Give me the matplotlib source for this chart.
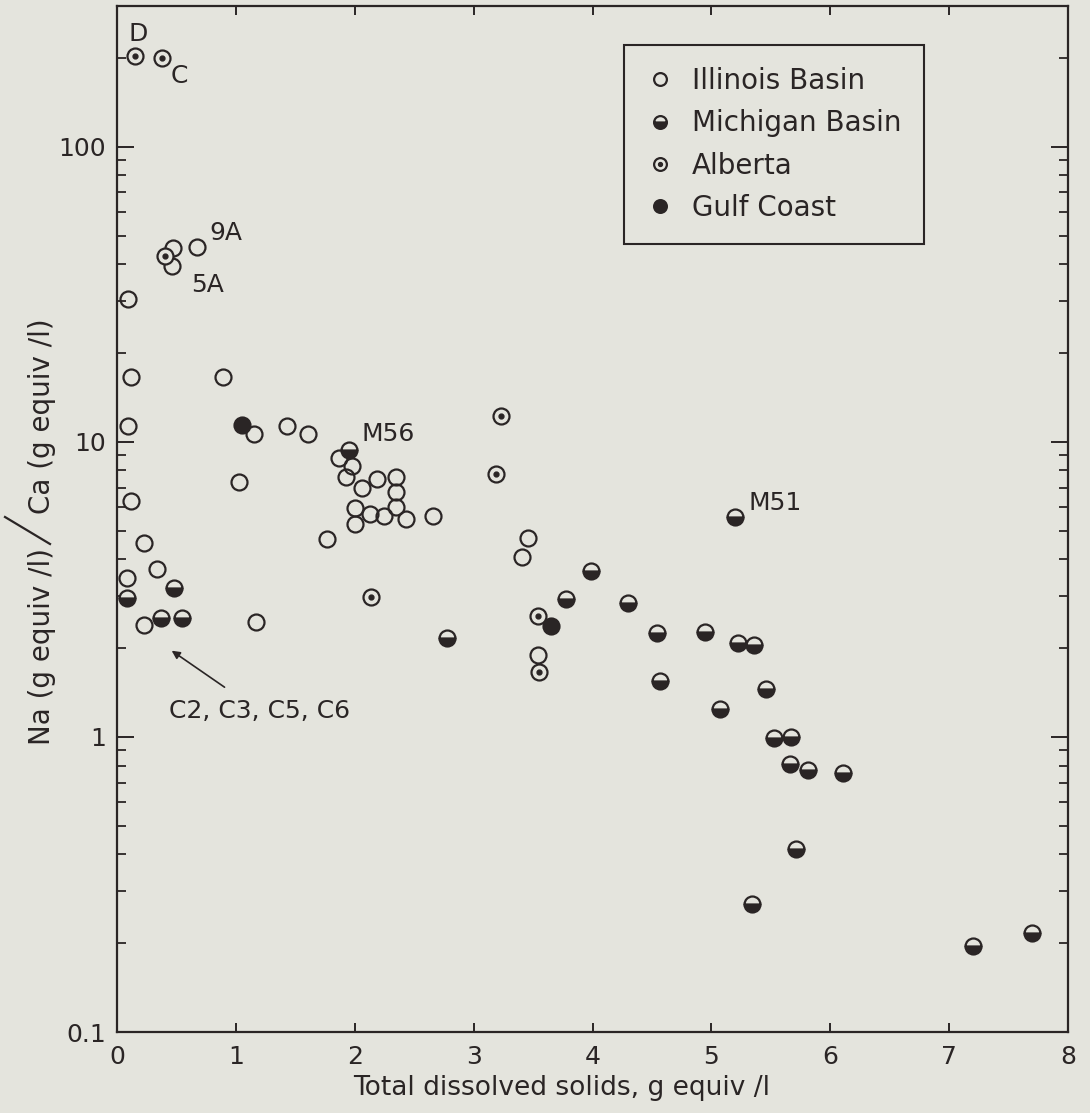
import numpy as np
import matplotlib

matplotlib.use('Agg')
from matplotlib import pyplot as plt
from matplotlib.lines import Line2D
from matplotlib.ticker import LogLocator, NullFormatter, FixedLocator

# Na/Ca ratio vs total dissolved solids, by region
illinois_tds = [0.47, 0.46, 0.67, 0.09, 0.12, 0.89, 0.09, 1.15, 1.43, 1.61,
                1.87, 1.98, 1.93, 2.06, 2.19, 1.03, 0.12, 2.35, 2.35, 2.35,
                2.00, 2.13, 2.25, 2.43, 2.00, 2.66, 1.77, 0.23, 0.34, 0.08,
                0.23, 1.17, 3.46, 3.41, 3.54]
illinois_ratio = [45.5, 39.5, 45.8, 30.5, 16.6, 16.6, 11.3, 10.6, 11.3, 10.6,
                  8.8, 8.3, 7.6, 7.0, 7.5, 7.3, 6.3, 7.6, 6.77, 6.02,
                  5.97, 5.7, 5.6, 5.48, 5.27, 5.6, 4.69, 4.55, 3.71, 3.46,
                  2.4, 2.45, 4.73, 4.08, 1.9]

michigan_tds = [1.95, 0.48, 0.08, 0.37, 0.55, 3.99, 3.78, 4.30, 2.78, 4.54,
                4.57, 5.20, 4.95, 5.22, 5.36, 5.46, 5.07, 5.53, 5.67, 5.66,
                5.81, 6.11, 5.71, 5.34, 7.20, 7.70]
michigan_ratio = [9.4, 3.2, 2.96, 2.53, 2.53, 3.65, 2.94, 2.85, 2.17, 2.25,
                  1.55, 5.57, 2.27, 2.08, 2.05, 1.45, 1.24, 0.99, 1.0, 0.81,
                  0.77, 0.755, 0.417, 0.272, 0.196, 0.217]

alberta_tds = [0.15, 0.38, 0.40, 3.23, 3.19, 2.14, 3.54, 3.55]
alberta_ratio = [203, 200, 42.7, 12.2, 7.8, 2.98, 2.57, 1.66]

gulf_tds = [1.05, 3.65]
gulf_ratio = [11.4, 2.38]

x_ticks = [0, 1, 2, 3, 4, 5, 6, 7, 8]
y_ticks = [0.1, 1, 10, 100]
y_tick_labels = ['0.1', '1', '10', '100']

# sample labels: (text, x, y, ha)
point_labels = [('D', 0.18, 241, 'center'), ('C', 0.52, 174, 'center'),
                ('9A', 0.92, 51, 'center'), ('5A', 0.76, 34, 'center'),
                ('M56', 2.06, 10.6, 'left'), ('M51', 5.31, 6.2, 'left')]

bg = '#e4e4dd'
ink = '#2a2525'

plt.rcParams['font.family'] = ['DejaVu Sans']
plt.rcParams['font.size'] = 18

W, H = 1090, 1113
fig = plt.figure(figsize=(W / 100, H / 100), dpi=100, facecolor=bg)
ax = fig.add_axes([117 / W, 1 - 1032 / H, 951 / W, 1026 / H])
ax.set_facecolor(bg)

ms = 11.5
mew = 1.6
h_ill, = ax.plot(illinois_tds, illinois_ratio, 'o', ms=ms, mfc='none', mec=ink, mew=mew,
                 linestyle='none')
h_mich, = ax.plot(michigan_tds, michigan_ratio, 'o', ms=ms, mfc=ink, mfcalt=bg, mec=ink,
                  mew=mew, fillstyle='bottom', linestyle='none')
h_alb, = ax.plot(alberta_tds, alberta_ratio, 'o', ms=ms, mfc=bg, mec=ink, mew=mew,
                 linestyle='none')
h_alb_dot, = ax.plot(alberta_tds, alberta_ratio, 'o', ms=3.5, mfc=ink, mec=ink,
                     linestyle='none')
h_gulf, = ax.plot(gulf_tds, gulf_ratio, 'o', ms=ms, mfc=ink, mec=ink, mew=mew,
                  linestyle='none')

ax.set_yscale('log')
ax.set_xlim(0, 8)
ax.set_ylim(0.1, 300)

ax.xaxis.set_major_locator(FixedLocator(x_ticks))
ax.set_xticklabels([str(t) for t in x_ticks])
ax.yaxis.set_major_locator(FixedLocator(y_ticks))
ax.set_yticklabels(y_tick_labels)
ax.yaxis.set_minor_locator(LogLocator(base=10, subs=np.arange(2, 10)))
ax.yaxis.set_minor_formatter(NullFormatter())

ax.tick_params(axis='x', which='major', direction='in', length=6.5, width=1.4,
               top=True, colors=ink, pad=9)
ax.tick_params(axis='y', which='major', direction='in', length=12, width=1.4,
               right=True, colors=ink, pad=8)
ax.tick_params(axis='y', which='minor', direction='in', length=6.5, width=1.3,
               right=True, colors=ink)
for s in ax.spines.values():
    s.set_color(ink)
    s.set_linewidth(1.6)

for txt, x, y, ha in point_labels:
    ax.text(x, y, txt, ha=ha, va='center', color=ink, fontsize=18)

ax.annotate('C2, C3, C5, C6', xy=(0.46, 1.96), xytext=(1.20, 1.22),
            ha='center', va='center', color=ink, fontsize=18,
            arrowprops=dict(arrowstyle='-|>', color=ink, lw=1.2,
                            shrinkA=12, shrinkB=0, mutation_scale=12))

ax.set_xlabel('Total dissolved solids, g equiv /l', color=ink, fontsize=19)
ax.xaxis.set_label_coords((562 - 117) / 951, -0.042)

# y label built from pieces so the dividing slash can be long and thin
fig.text(42 / W, 1 - 548 / H, 'Na (g equiv /l)', rotation=90, ha='center', va='top',
         color=ink, fontsize=20)
fig.add_artist(Line2D([5 / W, 50 / W], [1 - 517 / H, 1 - 544 / H], color=ink, lw=1.6))
fig.text(42 / W, 1 - 514 / H, 'Ca (g equiv /l)', rotation=90, ha='center', va='bottom',
         color=ink, fontsize=20)

leg = ax.legend([h_ill, h_mich, (h_alb, h_alb_dot), h_gulf],
                ['Illinois Basin', 'Michigan Basin', 'Alberta', 'Gulf Coast'],
                loc='upper left', bbox_to_anchor=((624 - 117) / 951, (1032 - 45) / 1026),
                frameon=True, fancybox=False, edgecolor=ink, facecolor=bg, framealpha=1,
                markerscale=0.8, handlelength=1.0, handletextpad=0.65,
                borderpad=0.8, labelspacing=0.51, fontsize=20, borderaxespad=0)
leg.get_frame().set_linewidth(1.5)
for t in leg.get_texts():
    t.set_color(ink)

fig.savefig('out.png', dpi=100, facecolor=bg)
